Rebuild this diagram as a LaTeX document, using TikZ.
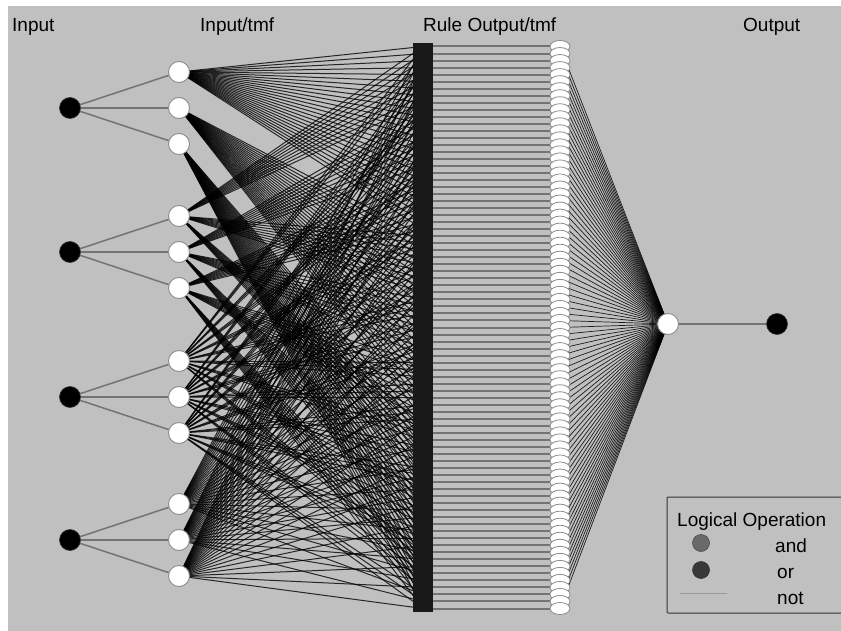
\documentclass[tikz,border=0pt]{standalone}
\usepackage{fontspec}
\setmainfont{Liberation Sans}
\usetikzlibrary{shapes.geometric}
\pgfdeclarelayer{bg}
\pgfdeclarelayer{edges}
\pgfsetlayers{bg,edges,main}
\definecolor{bgc}{HTML}{C0C0C0}
\definecolor{andc}{HTML}{6A6A6A}
\definecolor{orc}{HTML}{383838}
\begin{document}
\begin{tikzpicture}[x=1pt,y=-1pt,
  innode/.style={circle,fill=black,draw=black!80,line width=0.6pt,minimum size=21pt,inner sep=0pt},
  mfnode/.style={circle,fill=white,draw=black!45,line width=0.9pt,minimum size=21pt,inner sep=0pt},
  rulenode/.style={rectangle,fill=black!90,draw=none,minimum width=20pt,minimum height=7.3pt,inner sep=0pt},
  ronode/.style={ellipse,fill=white,draw=black!45,line width=0.8pt,minimum width=20pt,minimum height=12pt,inner sep=0pt},
  iedge/.style={draw=black!55,line width=1.5pt},
  redge/.style={draw=black,line width=1pt,opacity=0.8},
  hedge/.style={draw=black!55,line width=2pt},
  oedge/.style={draw=black,line width=0.7pt,opacity=0.85},
  lbl/.style={font=\fontsize{19}{21}\selectfont,anchor=base west,inner sep=0pt}]
\useasboundingbox (0,0) rectangle (841,631);
\begin{pgfonlayer}{bg}
  \fill[bgc] (8,6) rectangle (841,631);
\end{pgfonlayer}
% titles
\node[lbl] (t1) at (12,32) {Input};
\node[lbl] (t2) at (200,32) {Input/tmf};
\node[lbl] (t3) at (423,32) {Rule Output/tmf};
\node[lbl] (t4) at (743,32) {Output};
% inputs and membership functions
\foreach \i/\y in {1/108,2/252,3/397,4/540} {
  \node[innode] (in\i) at (70,\y) {};
  \foreach \j/\dd in {1/-36,2/0,3/36} {
    \pgfmathsetmacro\my{\y+\dd}
    \node[mfnode] (mf\i-\j) at (179,\my) {};
  }
}
% rules and rule outputs
\foreach \k in {0,...,80} {
  \pgfmathsetmacro\ry{46.5+\k*7.025}
  \node[rulenode] (r\k) at (423,\ry) {};
}
\foreach \k in {0,...,80} {
  \pgfmathsetmacro\ry{46.5+\k*7.025}
  \node[ronode] (ro\k) at (560,\ry) {};
}
% output
\node[mfnode] (omf) at (668,324) {};
\node[innode] (out) at (777,324) {};
% edges
\begin{pgfonlayer}{edges}
  \foreach \i in {1,...,4} {
    \foreach \j in {1,2,3} {
      \draw[iedge] (in\i) -- (mf\i-\j);
    }
  }
  \foreach \k in {0,...,80} {
    \pgfmathtruncatemacro\ma{int(\k/27)+1}
    \pgfmathtruncatemacro\mb{mod(int(\k/9),3)+1}
    \pgfmathtruncatemacro\mc{mod(int(\k/3),3)+1}
    \pgfmathtruncatemacro\md{mod(\k,3)+1}
    \draw[redge] (mf1-\ma.center) -- (r\k.center);
    \draw[redge] (mf2-\mb.center) -- (r\k.center);
    \draw[redge] (mf3-\mc.center) -- (r\k.center);
    \draw[redge] (mf4-\md.center) -- (r\k.center);
    \draw[hedge] (r\k.center) -- (ro\k.center);
    \draw[oedge] (ro\k.center) -- (omf.center);
  }
  \draw[iedge] (omf) -- (out);
\end{pgfonlayer}
% legend
\draw[black!80,line width=1pt,rounded corners=1pt] (667,497) rectangle (845,613);
\node[lbl] (lt) at (677,526) {Logical Operation};
\node[circle,fill=andc,draw=black!70,line width=0.6pt,minimum size=17pt,inner sep=0pt] (land) at (701,543) {};
\node[circle,fill=orc,draw=black!80,line width=0.6pt,minimum size=17pt,inner sep=0pt] (lor) at (701,570) {};
\coordinate (ln1) at (680,593);
\coordinate (ln2) at (727,593);
\draw[black!40,line width=1pt] (ln1) -- (ln2);
\node[lbl] (la) at (775,552) {and};
\node[lbl] (lo) at (777,578) {or};
\node[lbl] (lnn) at (777,604) {not};
\end{tikzpicture}
\end{document}
